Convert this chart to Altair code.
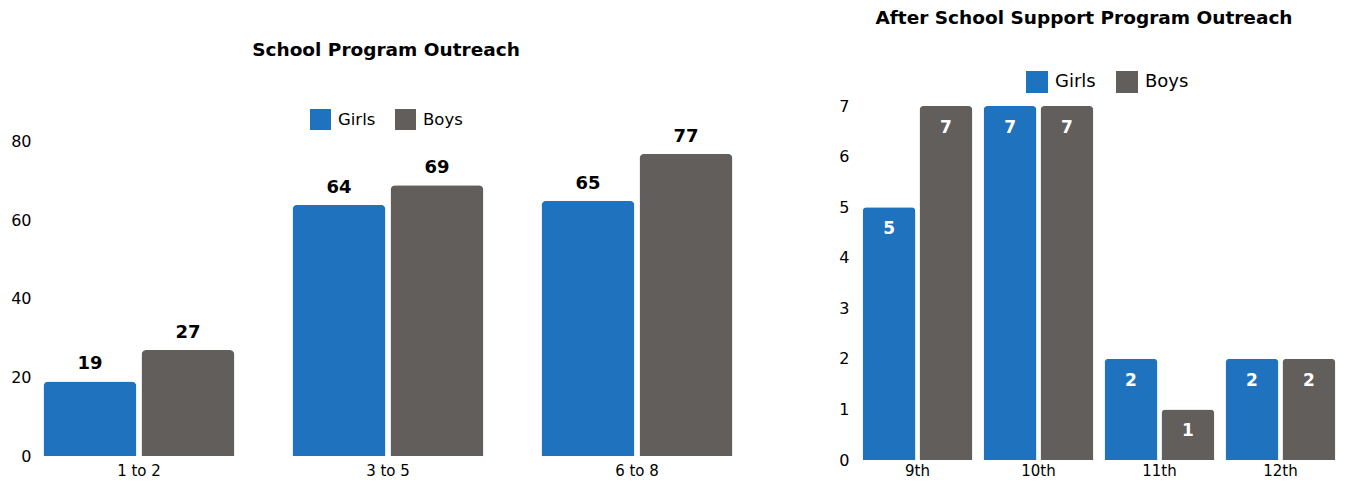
import altair as alt
import pandas as pd

# ---- data ----
school_groups = ["1 to 2", "3 to 5", "6 to 8"]
school_girls = [19, 64, 65]
school_boys = [27, 69, 77]

after_grades = ["9th", "10th", "11th", "12th"]
after_girls = [5, 7, 2, 2]
after_boys = [7, 7, 1, 2]

genders = ["Girls", "Boys"]
colors = ["#1F73BE", "#625E5C"]

FONT = "DejaVu Sans"


def to_long(cats, girls, boys):
    rows = []
    for c, g, b in zip(cats, girls, boys):
        rows.append({"cat": c, "gender": "Girls", "value": g})
        rows.append({"cat": c, "gender": "Boys", "value": b})
    return pd.DataFrame(rows)


left_df = to_long(school_groups, school_girls, school_boys)
right_df = to_long(after_grades, after_girls, after_boys)

color_scale = alt.Scale(domain=genders, range=colors)

# ---- left panel ----
left_base = alt.Chart(left_df).encode(
    x=alt.X("cat:N", sort=school_groups,
            scale=alt.Scale(paddingInner=0.233, paddingOuter=0.018),
            axis=alt.Axis(title=None, labelAngle=0, domain=False, ticks=False,
                          labelFontSize=15, labelColor="black", labelPadding=7)),
    xOffset=alt.XOffset("gender:N", sort=genders,
                        scale=alt.Scale(paddingInner=0.051, paddingOuter=0)),
    y=alt.Y("value:Q", scale=alt.Scale(domain=[0, 89.17], nice=False),
            axis=alt.Axis(title=None, values=[0, 20, 40, 60, 80], domain=False,
                          ticks=False, grid=False, labelFontSize=16,
                          labelColor="black", labelPadding=8)),
)
left_bars = left_base.mark_bar(cornerRadiusTopLeft=5, cornerRadiusTopRight=5).encode(
    color=alt.Color("gender:N", scale=color_scale, sort=genders,
                    legend=alt.Legend(title=None, orient="none", legendX=271, legendY=3,
                                      direction="horizontal", symbolType="square",
                                      symbolSize=441, labelFontSize=16.5, labelColor="black",
                                      columnPadding=19, labelOffset=7, symbolStrokeWidth=0))
)
left_text = left_base.mark_text(dy=-12, baseline="alphabetic", fontSize=18,
                                fontWeight="bold", color="black").encode(text="value:Q")
left = alt.layer(left_bars, left_text).properties(
    width=698, height=350,
    title=alt.TitleParams("School Program Outreach", fontSize=18.5,
                          fontWeight="bold", color="black", anchor="middle",
                          offset=47, dx=-2),
)

# ---- right panel ----
right_base = alt.Chart(right_df).encode(
    x=alt.X("cat:N", sort=after_grades,
            scale=alt.Scale(paddingInner=0.092, paddingOuter=0.038),
            axis=alt.Axis(title=None, labelAngle=0, domain=False, ticks=False,
                          labelFontSize=15, labelColor="black", labelPadding=3)),
    xOffset=alt.XOffset("gender:N", sort=genders,
                        scale=alt.Scale(paddingInner=0.07, paddingOuter=0)),
    y=alt.Y("value:Q", scale=alt.Scale(domain=[0, 7], nice=False),
            axis=alt.Axis(title=None, values=[0, 1, 2, 3, 4, 5, 6, 7], domain=False,
                          ticks=False, grid=False, labelFontSize=16,
                          labelColor="black", labelPadding=9)),
)
right_bars = right_base.mark_bar(cornerRadiusTopLeft=4, cornerRadiusTopRight=4).encode(
    color=alt.Color("gender:N", scale=color_scale, sort=genders,
                    legend=alt.Legend(title=None, orient="none", legendX=168, legendY=-35,
                                      direction="horizontal", symbolType="square",
                                      symbolSize=484, labelFontSize=18, labelColor="black",
                                      columnPadding=20, labelOffset=7, symbolStrokeWidth=0))
)
right_text = right_base.mark_text(dy=27, baseline="alphabetic", fontSize=17,
                                  fontWeight="bold", color="white").encode(text="value:Q")
right = alt.layer(right_bars, right_text).properties(
    width=482, height=354,
    title=alt.TitleParams("After School Support Program Outreach",
                          fontSize=18.5, fontWeight="bold", color="black",
                          anchor="middle", offset=44, dx=-15),
)

chart = (
    alt.hconcat(left, right, spacing=121)
    .properties(bounds="flush", padding={"left": 2, "top": 0, "right": 0, "bottom": 0})
    .resolve_scale(x="independent", xOffset="independent", y="independent")
    .resolve_legend(color="independent")
    .configure(font=FONT)
    .configure_view(stroke="transparent", strokeWidth=0)
)

chart.save("out.html", embed_options={"renderer": "svg", "actions": False})
